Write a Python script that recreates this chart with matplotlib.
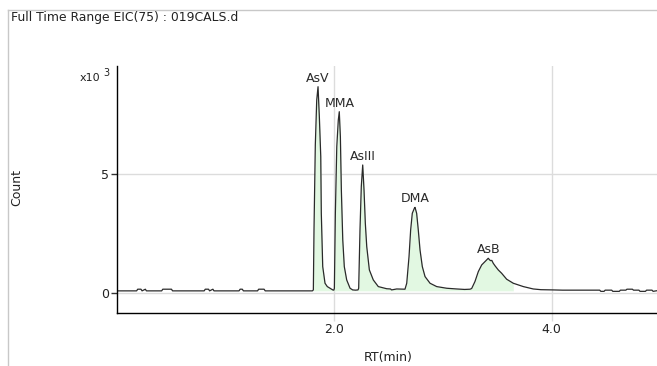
import matplotlib
matplotlib.use("Agg")
import matplotlib.pyplot as plt
from matplotlib.lines import Line2D

# retention time (min) and counts
rt_min = [
    0.01, 0.19, 0.20, 0.23, 0.24, 0.27, 0.28, 0.42, 0.43, 0.51, 0.52,
    0.81, 0.82, 0.85, 0.86, 0.89, 0.90, 1.13, 1.14, 1.16, 1.17, 1.30,
    1.31, 1.36, 1.37, 1.803, 1.812, 1.818, 1.830, 1.843, 1.855, 1.867,
    1.880, 1.885, 1.898, 1.919, 1.940, 1.965, 1.990, 2.000, 2.005, 2.014,
    2.027, 2.041, 2.050, 2.060, 2.069, 2.082, 2.096, 2.118, 2.149, 2.173,
    2.200, 2.222, 2.228, 2.240, 2.252, 2.265, 2.277, 2.289, 2.302, 2.326,
    2.362, 2.408, 2.485, 2.520, 2.530, 2.577, 2.653, 2.669, 2.690, 2.705,
    2.720, 2.739, 2.745, 2.760, 2.775, 2.791, 2.812, 2.837, 2.883, 2.944,
    3.036, 3.128, 3.200, 3.250, 3.265, 3.295, 3.326, 3.357, 3.396, 3.417,
    3.430, 3.439, 3.450, 3.463, 3.480, 3.509, 3.540, 3.586, 3.647, 3.739,
    3.830, 3.900, 4.013, 4.10, 4.44, 4.45, 4.48, 4.49, 4.55, 4.56, 4.62,
    4.63, 4.68, 4.69, 4.74, 4.75, 4.80, 4.81, 4.86, 4.87, 4.92, 4.93, 4.97,
]
counts = [
    100, 100, 170, 170, 100, 170, 100, 100, 170, 170, 100,
    100, 170, 170, 100, 170, 100, 100, 170, 170, 100, 100,
    170, 170, 100, 100, 140, 2660, 6230, 8120, 8680, 7420,
    5740, 3360, 1120, 420, 280, 210, 140, 130, 210, 3360,
    6160, 7280, 7630, 6580, 4340, 2240, 1120, 560, 210, 140,
    130, 140, 210, 2660, 4480, 5390, 4340, 2940, 1960, 980,
    560, 280, 190, 180, 140, 180, 170, 420, 1540, 2660,
    3360, 3570, 3610, 3360, 2660, 1820, 1120, 700, 420, 280,
    210, 180, 160, 170, 200, 490, 910, 1190, 1370, 1470,
    1400, 1370, 1380, 1260, 1150, 980, 840, 590, 420, 280,
    180, 150, 140, 130, 130, 80, 80, 130, 130, 80, 80,
    130, 130, 170, 170, 130, 130, 80, 80, 130, 130, 80, 110,
]

peak_names = ["AsV", "MMA", "AsIII", "DMA", "AsB"]
peak_rt = [1.855, 2.050, 2.265, 2.745, 3.417]
peak_counts = [8680, 7630, 5390, 3610, 1470]

fill_start, fill_end = 1.80, 3.66
baseline = 100


def kilo(value: float, pos) -> str:
    """ y tick formatter, counts in 10^3 """
    return f'{value / 1000:.0f}'


def main():
    """ Draw the EIC chromatogram. """
    fig = plt.figure(figsize=(6.57, 3.66), dpi=100)
    ax = fig.add_axes([117 / 657, 53 / 366, 541 / 657, 247 / 366])

    ax.set_xlim(0.01, 4.975)
    ax.set_ylim(-830, 9550)
    ax.set_xticks([2.0, 4.0])
    ax.set_xticklabels(['2.0', '4.0'])
    ax.set_yticks([0, 5000])
    ax.yaxis.set_major_formatter(kilo)
    ax.grid(True, color='#dcdcdc', linewidth=1)
    ax.set_axisbelow(True)
    for side in ('top', 'right'):
        ax.spines[side].set_visible(False)
    for side in ('left', 'bottom'):
        ax.spines[side].set_linewidth(1)
        ax.spines[side].set_color('black')
    ax.tick_params(axis='y', length=4, width=1, color='#333333',
                   labelsize=9, pad=2, labelcolor='#222222')
    ax.tick_params(axis='x', length=6, width=1, color='#dcdcdc',
                   labelsize=9, pad=1, labelcolor='#222222')

    sel = [i for i, t in enumerate(rt_min) if fill_start <= t <= fill_end]
    ax.fill_between([rt_min[i] for i in sel], baseline,
                    [counts[i] for i in sel], color='#e2f8e2', lw=0)
    ax.plot(rt_min, counts, color='#2a2a2a', lw=0.9)

    for name, t, c in zip(peak_names, peak_rt, peak_counts):
        ax.annotate(name, (t, c), xytext=(0, 3.5), textcoords='offset points',
                    ha='center', va='baseline', fontsize=9,
                    color='#2a2a2a')

    fig.text(11 / 657, 1 - 18 / 366, 'Full Time Range EIC(75) : 019CALS.d',
             fontsize=8.9, va='center', ha='left', color='#222222')
    fig.text(100 / 657, 1 - 78 / 366, 'x10', fontsize=8, ha='right',
             va='center', color='#222222')
    fig.text(103 / 657, 1 - 73 / 366, '3', fontsize=7, ha='left',
             va='center', color='#222222')
    fig.text(17 / 657, 1 - 188 / 366, 'Count', rotation=90, fontsize=9,
             ha='center', va='center', color='#222222')
    fig.text(388 / 657, 1 - 358 / 366, 'RT(min)', fontsize=9,
             ha='center', va='center', color='#222222')

    # window frame lines
    fig.add_artist(Line2D([8 / 657, 1], [1 - 10 / 366, 1 - 10 / 366],
                          color='#c8c8c8', lw=1, transform=fig.transFigure))
    fig.add_artist(Line2D([8 / 657, 8 / 657], [0, 1 - 10 / 366],
                          color='#c8c8c8', lw=1, transform=fig.transFigure))

    fig.savefig('out.png', dpi=100)


if __name__ == "__main__":
    main()
